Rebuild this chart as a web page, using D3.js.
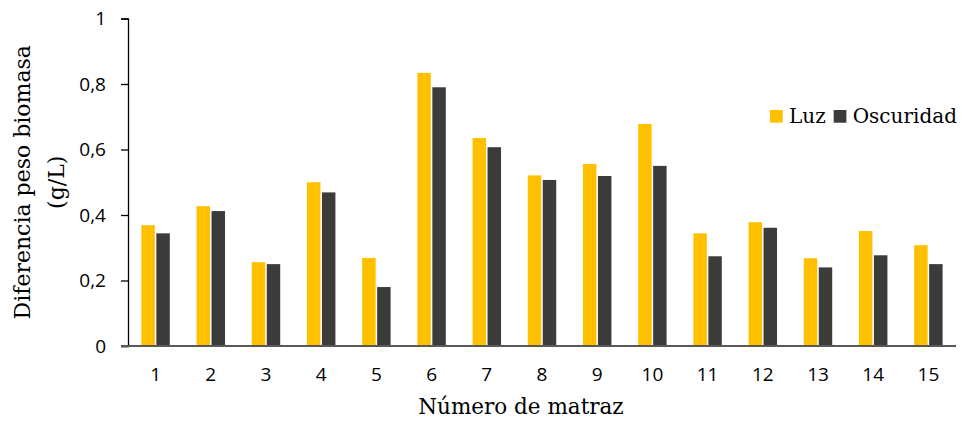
<!DOCTYPE html>
<html lang="es">
<head>
  <meta charset="utf-8">
  <title>Diferencia peso biomasa</title>
  <style>
    body { margin: 0; background: #fff; }
    svg { display: block; }
    .tick-label { font-family: "Open Sans", "Liberation Sans", sans-serif; }
    .serif { font-family: "DejaVu Serif", serif; }
  </style>
  <script src="https://d3js.org/d3.v7.min.js"></script>
</head>
<body>
<script>
    // datos
    let categories = ['1','2','3','4','5','6','7','8','9','10','11','12','13','14','15']
    let seriesNames = ['Luz', 'Oscuridad']
    let luz = [0.369, 0.427, 0.256, 0.500, 0.269, 0.834, 0.635, 0.521, 0.556, 0.678, 0.344, 0.378, 0.268, 0.351, 0.308]
    let oscuridad = [0.344, 0.412, 0.250, 0.469, 0.180, 0.790, 0.607, 0.507, 0.519, 0.550, 0.274, 0.361, 0.240, 0.277, 0.250]
    let yTicks = [0, 0.2, 0.4, 0.6, 0.8, 1]

    let width = 962
    let height = 425
    let mLeft = 128, mRight = 956, mTop = 18.5, mBottom = 346
    let colors = ['#FFC000', '#3B3B39']

    let values = categories.map((c, i) => ({cat: c, vals: [luz[i], oscuridad[i]]}))

    let svg = d3.select('body')
                .append('svg')
                .attr('width', width)
                .attr('height', height)

    let xScale = d3.scaleBand()
                   .domain(categories)
                   .range([mLeft, mRight])
                   .paddingInner(0.485)
                   .paddingOuter(0.2425)

    let xInner = d3.scaleBand()
                   .domain(seriesNames)
                   .range([0, xScale.bandwidth()])
                   .paddingInner(0.1)

    let yScale = d3.scaleLinear()
                   .domain([0, 1])
                   .range([mBottom, mTop])

    // barras
    let groups = svg.selectAll('.group')
                    .data(values)
                    .enter()
                    .append('g')
                    .attr('class', 'group')
                    .attr('transform', (d) => `translate(${xScale(d.cat)},0)`)

    groups.selectAll('rect')
          .data((d) => d.vals.map((v, j) => ({name: seriesNames[j], v: v, j: j})))
          .enter()
          .append('rect')
          .attr('x', (d) => xInner(d.name))
          .attr('width', xInner.bandwidth())
          .attr('y', (d) => yScale(d.v))
          .attr('height', (d) => mBottom - yScale(d.v))
          .attr('fill', (d) => colors[d.j])

    // eje y
    let yAxis = d3.axisLeft(yScale)
                  .tickValues(yTicks)
                  .tickSize(7)
                  .tickPadding(15)
                  .tickFormat((d) => d3.format('.1f')(d).replace('.', ',').replace(/^0,0$/, '0').replace(/^1,0$/, '1'))

    let gy = svg.append('g')
                .attr('transform', `translate(${mLeft},0)`)
                .call(yAxis)
    gy.select('.domain').attr('stroke', '#000').attr('stroke-width', 1.3)
    gy.selectAll('.tick line').attr('stroke', '#000').attr('stroke-width', 1.3)
    gy.selectAll('text')
      .attr('class', 'tick-label')
      .attr('font-size', 19)
      .attr('fill', '#000')

    // eje x
    let xAxis = d3.axisBottom(xScale).tickSize(0).tickPadding(22)
    let gx = svg.append('g')
                .attr('transform', `translate(0,${mBottom})`)
                .call(xAxis)
    gx.select('.domain').remove()
    gx.selectAll('text')
      .attr('class', 'tick-label')
      .attr('font-size', 19)
      .attr('fill', '#000')
    svg.append('line')
       .attr('x1', mLeft - 7).attr('x2', mRight)
       .attr('y1', mBottom).attr('y2', mBottom)
       .attr('stroke', '#595959')
       .attr('stroke-width', 2)

    // títulos
    svg.append('text')
       .attr('class', 'serif')
       .attr('x', 521)
       .attr('y', 414)
       .attr('text-anchor', 'middle')
       .attr('font-size', 21.5)
       .text('Número de matraz')

    let yTitle = svg.append('text')
                    .attr('class', 'serif')
                    .attr('transform', `translate(30,${(mTop + mBottom) / 2}) rotate(-90)`)
                    .attr('text-anchor', 'middle')
                    .attr('font-size', 22)
    yTitle.append('tspan').attr('x', 0).attr('y', 0).text('Diferencia peso biomasa')
    yTitle.append('tspan').attr('x', 0).attr('y', 34).text('(g/L)')

    // leyenda
    let legend = svg.append('g').attr('transform', 'translate(770,110)')
    let lx = 0
    seriesNames.forEach((name, j) => {
        legend.append('rect')
              .attr('x', lx).attr('y', 0)
              .attr('width', 12.7).attr('height', 12.7)
              .attr('fill', colors[j])
        let t = legend.append('text')
                      .attr('class', 'serif')
                      .attr('x', lx + 19)
                      .attr('y', 13)
                      .attr('font-size', 20)
                      .text(name)
        lx += 19 + t.node().getComputedTextLength() + 8
    })
</script>
</body>
</html>
